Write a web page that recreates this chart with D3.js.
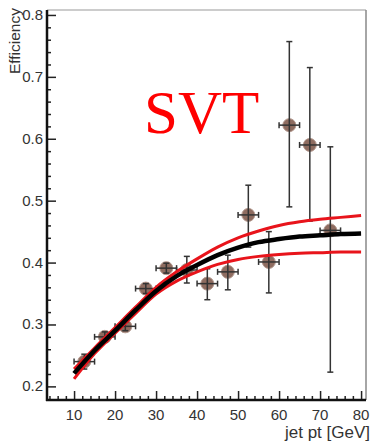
<!DOCTYPE html>
<html>
<head>
<meta charset="utf-8">
<script src="https://cdn.jsdelivr.net/npm/d3@7"></script>
<style>
  body { margin: 0; background: #fff; }
  svg { display: block; }
  .lbl { font-family: "Liberation Sans", Arial, sans-serif; fill: #333; }
</style>
</head>
<body>
<div id="chart"></div>
<script>
// measured points (bin centre, efficiency, error low/high)
var binCenters = [12.5, 17.5, 22.5, 27.5, 32.5, 37.5, 42.5, 47.5, 52.5, 57.5, 62.5, 67.5, 72.5];
var effValues  = [0.240, 0.280, 0.297, 0.358, 0.391, 0.388, 0.366, 0.385, 0.477, 0.401, 0.622, 0.590, 0.452];
var errLow     = [0.228, 0.272, 0.290, 0.350, 0.383, 0.367, 0.340, 0.356, 0.425, 0.351, 0.490, 0.467, 0.223];
var errHigh    = [0.252, 0.288, 0.304, 0.366, 0.399, 0.410, 0.390, 0.412, 0.525, 0.450, 0.757, 0.715, 0.587];
var binHalfWidth = 2.5;

// fitted curves
var fitX     = [10, 15, 20, 25, 30, 35, 40, 45, 50, 55, 60, 65, 70, 75, 80];
var fitMid   = [0.221, 0.258, 0.290, 0.323, 0.354, 0.378, 0.396, 0.412, 0.424, 0.433, 0.438, 0.442, 0.444, 0.446, 0.447];
var fitUpper = [0.228, 0.262, 0.295, 0.328, 0.360, 0.385, 0.406, 0.425, 0.440, 0.451, 0.460, 0.466, 0.470, 0.473, 0.476];
var fitLower = [0.212, 0.253, 0.286, 0.318, 0.349, 0.370, 0.385, 0.397, 0.405, 0.410, 0.413, 0.415, 0.416, 0.417, 0.417];

var xMajor = [10, 20, 30, 40, 50, 60, 70, 80];
var yMajor = [0.2, 0.3, 0.4, 0.5, 0.6, 0.7, 0.8];

var width = 372, height = 443;

var svg = d3.select('#chart').append('svg')
  .attr('width', width)
  .attr('height', height);

var x = d3.scaleLinear().domain([3.4, 81.2]).range([47, 366]);
var y = d3.scaleLinear().domain([0.178, 0.808]).range([400, 10]);

// frame
svg.append('line').attr('x1', 47).attr('x2', 366).attr('y1', 10).attr('y2', 10)
  .attr('stroke', '#999').attr('stroke-width', 1.2);
svg.append('line').attr('x1', 366).attr('x2', 366).attr('y1', 10).attr('y2', 400)
  .attr('stroke', '#888').attr('stroke-width', 1.5);

// axes with inward ticks
var xMinor = d3.range(4, 81, 2).filter(function(d){ return d % 10 !== 0; });
var yMinor = d3.range(0.2, 0.801, 0.02).filter(function(d){ return Math.abs(d * 10 - Math.round(d * 10)) > 0.01; });

var xAxis = svg.append('g').attr('transform', 'translate(0,400)');
xAxis.append('g')
  .call(d3.axisTop(x).tickValues(xMinor).tickSize(4).tickFormat(''))
  .call(function(g){ g.select('.domain').remove(); });
xAxis.append('g')
  .call(d3.axisTop(x).tickValues(xMajor).tickSize(9).tickFormat(''))
  .call(function(g){ g.select('.domain').remove(); });
xAxis.selectAll('line').attr('stroke', '#222').attr('stroke-width', 1.5);
xAxis.append('line').attr('x1', 46).attr('x2', 366).attr('stroke', '#111').attr('stroke-width', 2.5);
xAxis.selectAll('.xt').data(xMajor).enter().append('text')
  .attr('class', 'lbl')
  .attr('x', function(d){ return x(d); })
  .attr('y', 20)
  .attr('text-anchor', 'middle')
  .attr('font-size', 15)
  .text(function(d){ return d; });

var yAxis = svg.append('g').attr('transform', 'translate(47,0)');
yAxis.append('g')
  .call(d3.axisRight(y).tickValues(yMinor).tickSize(4).tickFormat(''))
  .call(function(g){ g.select('.domain').remove(); });
yAxis.append('g')
  .call(d3.axisRight(y).tickValues(yMajor).tickSize(9).tickFormat(''))
  .call(function(g){ g.select('.domain').remove(); });
yAxis.selectAll('line').attr('stroke', '#222').attr('stroke-width', 1.5);
yAxis.append('line').attr('y1', 10).attr('y2', 401).attr('stroke', '#111').attr('stroke-width', 2.5);
yAxis.selectAll('.yt').data(yMajor).enter().append('text')
  .attr('class', 'lbl')
  .attr('x', -4)
  .attr('y', function(d){ return y(d) + 5; })
  .attr('text-anchor', 'end')
  .attr('font-size', 15)
  .text(function(d){ return d.toFixed(1); });

// axis titles
svg.append('text').attr('class', 'lbl')
  .attr('transform', 'translate(20,8) rotate(-90)')
  .attr('text-anchor', 'end')
  .attr('font-size', 15.5)
  .text('Efficiency');
svg.append('text').attr('class', 'lbl')
  .attr('x', 370).attr('y', 438)
  .attr('text-anchor', 'end')
  .attr('font-size', 17)
  .text('jet pt [GeV]');

// data points
var pts = binCenters.map(function(c, i){
  return { x: c, y: effValues[i], lo: errLow[i], hi: errHigh[i] };
});
var pg = svg.append('g');
var pt = pg.selectAll('g').data(pts).enter().append('g');
pt.append('circle')
  .attr('cx', function(d){ return x(d.x); })
  .attr('cy', function(d){ return y(d.y); })
  .attr('r', 6.5)
  .attr('fill', '#8e6c60')
  .attr('stroke', '#b49a90')
  .attr('stroke-width', 1);
pt.append('line')
  .attr('x1', function(d){ return x(d.x); }).attr('x2', function(d){ return x(d.x); })
  .attr('y1', function(d){ return y(d.lo); }).attr('y2', function(d){ return y(d.hi); })
  .attr('stroke', '#333').attr('stroke-width', 1.5);
pt.append('line')
  .attr('x1', function(d){ return x(d.x - binHalfWidth); }).attr('x2', function(d){ return x(d.x + binHalfWidth); })
  .attr('y1', function(d){ return y(d.y); }).attr('y2', function(d){ return y(d.y); })
  .attr('stroke', '#333').attr('stroke-width', 1.5);
// caps
pt.selectAll('.vcap').data(function(d){ return [d.lo, d.hi].map(function(v){ return { x: d.x, v: v }; }); })
  .enter().append('line')
  .attr('x1', function(d){ return x(d.x) - 3; }).attr('x2', function(d){ return x(d.x) + 3; })
  .attr('y1', function(d){ return y(d.v); }).attr('y2', function(d){ return y(d.v); })
  .attr('stroke', '#333').attr('stroke-width', 1.5);
pt.selectAll('.hcap').data(function(d){ return [d.x - binHalfWidth, d.x + binHalfWidth].map(function(v){ return { v: v, y: d.y }; }); })
  .enter().append('line')
  .attr('x1', function(d){ return x(d.v); }).attr('x2', function(d){ return x(d.v); })
  .attr('y1', function(d){ return y(d.y) - 3; }).attr('y2', function(d){ return y(d.y) + 3; })
  .attr('stroke', '#333').attr('stroke-width', 1.5);

// fit curves
var line = d3.line()
  .x(function(d){ return x(d[0]); })
  .y(function(d){ return y(d[1]); })
  .curve(d3.curveMonotoneX);
function zipFit(vals){ return fitX.map(function(v, i){ return [v, vals[i]]; }); }

svg.append('path').datum(zipFit(fitUpper))
  .attr('d', line).attr('fill', 'none').attr('stroke', '#e8141b').attr('stroke-width', 3);
svg.append('path').datum(zipFit(fitLower))
  .attr('d', line).attr('fill', 'none').attr('stroke', '#e8141b').attr('stroke-width', 3);
svg.append('path').datum(zipFit(fitMid))
  .attr('d', line).attr('fill', 'none').attr('stroke', '#000').attr('stroke-width', 4.5);

// label
svg.append('text')
  .attr('x', 144).attr('y', 133)
  .attr('font-family', '"Liberation Serif", "Times New Roman", serif')
  .attr('font-size', 61)
  .attr('fill', '#ff0000')
  .text('SVT');
</script>
</body>
</html>
